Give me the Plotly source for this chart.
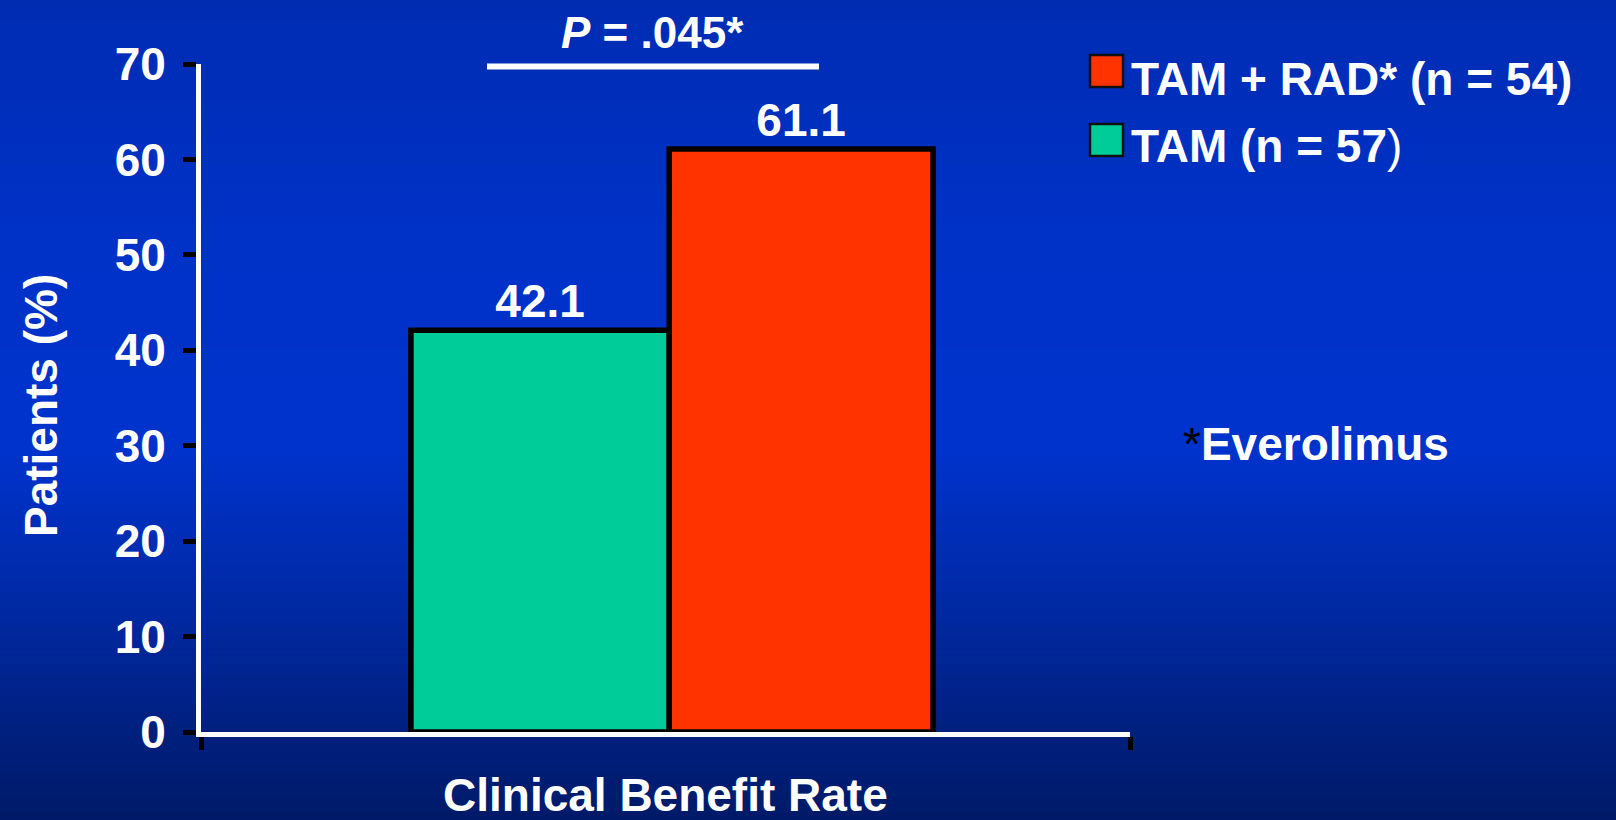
import plotly.graph_objects as go

# ---- data ----
categories = ["Clinical Benefit Rate"]
series_names = ["TAM (n = 57)", "TAM + RAD* (n = 54)"]
tam_values = [42.1]
tam_rad_values = [61.1]
y_ticks = [0, 10, 20, 30, 40, 50, 60, 70]

W, H = 1616, 820
FONT = "Liberation Sans, Arial, Helvetica, sans-serif"
GREEN = "#00CC99"
RED = "#FF3300"


def px_x(x):
    return x / W


def px_y(y):
    return 1 - y / H


label_font = dict(family=FONT, size=46, color="white", weight="bold")

fig = go.Figure()

# bar placement inside the single category (category units)
fig.add_trace(go.Bar(
    x=categories, y=tam_values, name=series_names[0],
    offset=-0.274, width=0.278,
    marker=dict(color=GREEN, line=dict(color="black", width=5.5)),
    texttemplate="%{y}", textposition="outside", textfont=label_font,
    cliponaxis=False, showlegend=False,
))
fig.add_trace(go.Bar(
    x=categories, y=tam_rad_values, name=series_names[1],
    offset=0.004, width=0.284,
    marker=dict(color=RED, line=dict(color="black", width=5.5)),
    texttemplate="%{y}", textposition="outside", textfont=label_font,
    cliponaxis=False, showlegend=False,
))

# ---- vertical background gradient built from thin strips ----
stops = [
    (0.00, (0, 44, 178)),
    (0.30, (0, 50, 200)),
    (0.55, (0, 51, 204)),
    (0.72, (0, 42, 168)),
    (0.87, (0, 33, 132)),
    (1.00, (0, 26, 104)),
]


def grad(t):
    for (t0, c0), (t1, c1) in zip(stops[:-1], stops[1:]):
        if t0 <= t <= t1:
            f = (t - t0) / (t1 - t0) if t1 > t0 else 0
            return tuple(round(a + (b - a) * f) for a, b in zip(c0, c1))
    return stops[-1][1]


shapes = []
n_strips = 120
for i in range(n_strips):
    t = (i + 0.5) / n_strips
    r, g, b = grad(t)
    shapes.append(dict(
        type="rect", xref="paper", yref="paper", layer="below",
        x0=0, x1=1, y0=1 - (i + 1) / n_strips - 0.001, y1=1 - i / n_strips + 0.001,
        fillcolor=f"rgb({r},{g},{b})", line=dict(width=0),
    ))

# significance bracket line
shapes.append(dict(
    type="line", xref="paper", yref="paper",
    x0=px_x(487), x1=px_x(819), y0=px_y(66.5), y1=px_y(66.5),
    line=dict(color="white", width=6),
))

# legend swatches
for (y0, y1), col in [((55, 87), RED), ((124, 156), GREEN)]:
    shapes.append(dict(
        type="rect", xref="paper", yref="paper",
        x0=px_x(1090), x1=px_x(1123), y0=px_y(y1), y1=px_y(y0),
        fillcolor=col, line=dict(color="#111111", width=2.5),
    ))

annotations = [
    dict(text="<i>P</i> = .045*", x=px_x(652), y=px_y(32), xref="paper", yref="paper",
         xanchor="center", yanchor="middle", showarrow=False,
         font=dict(family=FONT, size=44, color="white", weight="bold")),
    dict(text="TAM + RAD* (n = 54)", x=px_x(1129), y=px_y(79), xref="paper", yref="paper",
         xanchor="left", yanchor="middle", showarrow=False, font=label_font),
    dict(text="TAM (n = 57<span style='font-weight:normal'>)</span>", x=px_x(1129), y=px_y(146),
         xref="paper", yref="paper", xanchor="left", yanchor="middle", showarrow=False,
         font=label_font),
    dict(text="<span style='color:black;font-weight:normal'>*</span>Everolimus",
         x=px_x(1181), y=px_y(444), xref="paper", yref="paper",
         xanchor="left", yanchor="middle", showarrow=False, font=label_font),
    dict(text="Patients (%)", x=px_x(41), y=px_y(406), xref="paper", yref="paper",
         xanchor="center", yanchor="middle", textangle=-90, showarrow=False,
         font=label_font),
    dict(text="Clinical Benefit Rate", x=px_x(665), y=px_y(795), xref="paper", yref="paper",
         xanchor="center", yanchor="middle", showarrow=False, font=label_font),
]

fig.update_layout(
    width=W, height=H,
    margin=dict(l=0, r=0, t=0, b=0, pad=0, autoexpand=False),
    paper_bgcolor="#0033CC",
    plot_bgcolor="rgba(0,0,0,0)",
    barmode="group",
    shapes=shapes, annotations=annotations,
    showlegend=False,
    font=dict(family=FONT, color="white"),
    xaxis=dict(
        domain=[px_x(201), px_x(1130)],
        type="category", range=[-0.5, 0.5],
        showticklabels=False, tickson="boundaries",
        ticks="outside", ticklen=13, tickwidth=5, tickcolor="black",
        showline=True, linecolor="white", linewidth=5,
        showgrid=False, zeroline=False, automargin=False,
    ),
    yaxis=dict(
        domain=[px_y(732), px_y(64)],
        range=[0, 70], tickvals=y_ticks,
        ticks="outside", ticklen=13, tickwidth=5, tickcolor="black",
        ticklabelstandoff=8,
        tickfont=label_font,
        showline=True, linecolor="white", linewidth=5,
        showgrid=False, zeroline=False, automargin=False,
    ),
)

fig.write_html("out.html")
